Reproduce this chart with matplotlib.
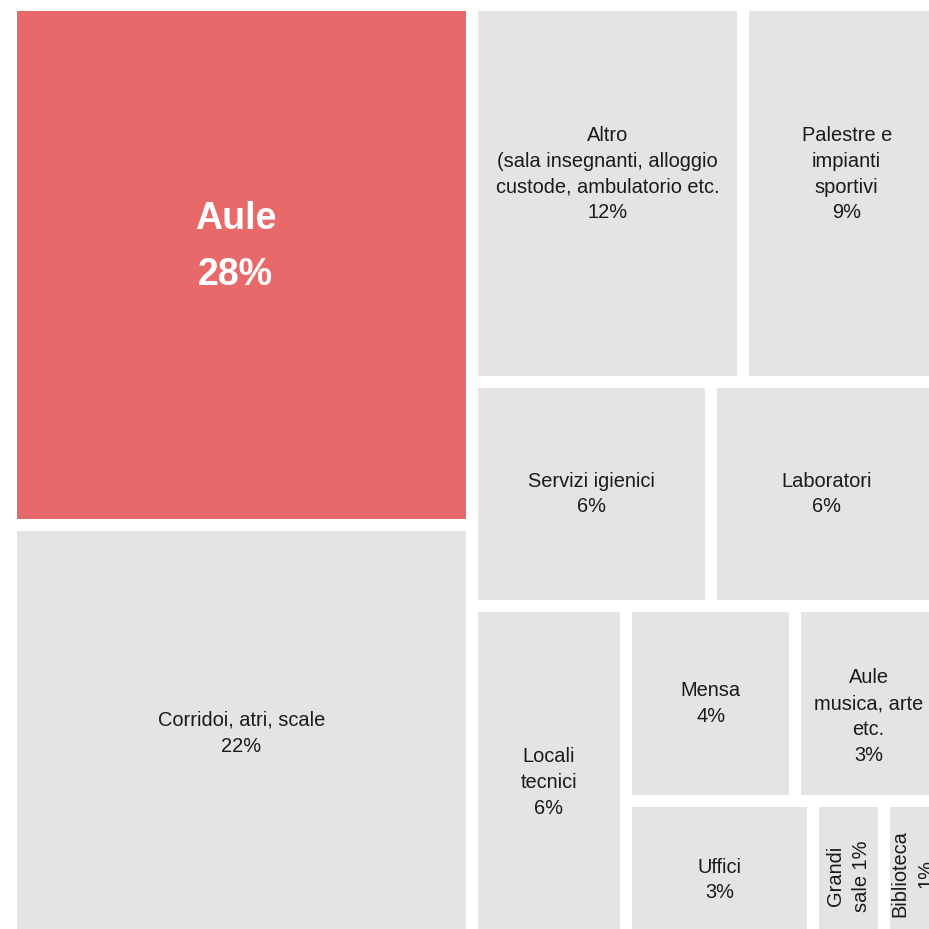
import matplotlib.pyplot as plt
from matplotlib.patches import Rectangle

# voci della mappa (percentuale della superficie)
names = ["Aule", "Corridoi, atri, scale",
         "Altro\n(sala insegnanti, alloggio\ncustode, ambulatorio etc.",
         "Palestre e\nimpianti\nsportivi", "Servizi igienici", "Laboratori",
         "Locali\ntecnici", "Mensa", "Aule\nmusica, arte\netc.", "Uffici",
         "Grandi\nsale", "Biblioteca"]
values = [27.7, 21.8, 11.8, 8.65, 6.2, 6.0, 5.85, 3.8, 3.3, 2.9, 1.1, 0.9]
highlight = 0

# struttura della mappa: 'x' = affiancati, 'y' = impilati
tree = ('x', [('y', [0, 1]),
              ('y', [('x', [2, 3]), ('x', [4, 5]),
                     ('x', [6, ('y', [('x', [7, 8]), ('x', [9, 10, 11])])])])])

# spostamenti delle etichette in pixel (dx, dy)
offsets = {0: (-6, 18), 1: (0, -3), 2: (0, 19), 3: (4, 19), 8: (0, -13),
           6: (0, -12), 9: (0, -12), 10: (0, -8), 11: (0, -6)}
rotated = [10, 11]
seps = {10: " "}


def total(node):
    if isinstance(node, int):
        return values[node]
    return sum(total(c) for c in node[1])


def layout(node, x, y, w, h, out):
    if isinstance(node, int):
        out[node] = (x, y, w, h)
        return
    d, children = node
    s = total(node)
    for c in children:
        f = total(c) / s
        if d == 'x':
            layout(c, x, y, w * f, h, out)
            x += w * f
        else:
            layout(c, x, y, w, h * f, out)
            y += h * f


rects = {}
layout(tree, 0, 0, 1, 1, rects)

fig = plt.figure(figsize=(9.291, 9.291), dpi=100)
ax = fig.add_axes([11 / 929, -6 / 929, 931 / 929, 930 / 929])
ax.set_xlim(0, 1)
ax.set_ylim(1, 0)
ax.axis('off')

for i in range(len(values)):
    x, y, w, h = rects[i]
    col = '#e8696a' if i == highlight else '#e4e4e4'
    ax.add_patch(Rectangle((x, y), w, h, facecolor=col, edgecolor='white',
                           linewidth=8.64, clip_on=False))
    txt = names[i] + seps.get(i, "\n") + "%d%%" % round(values[i])
    dx, dy = offsets.get(i, (0, 0))
    if i == highlight:
        ax.annotate(txt, (x + w / 2, y + h / 2), xytext=(dx * 0.72, dy * 0.72),
                    textcoords='offset points', ha='center', va='center',
                    color='white', fontsize=27, fontweight='bold',
                    family='Liberation Sans', linespacing=1.7)
    else:
        ax.annotate(txt, (x + w / 2, y + h / 2), xytext=(dx * 0.72, dy * 0.72),
                    textcoords='offset points', ha='center', va='center',
                    color='#1a1a1a', fontsize=14.4, family='Liberation Sans',
                    linespacing=1.45, rotation=90 if i in rotated else 0)

plt.savefig('out.png', dpi=100)
